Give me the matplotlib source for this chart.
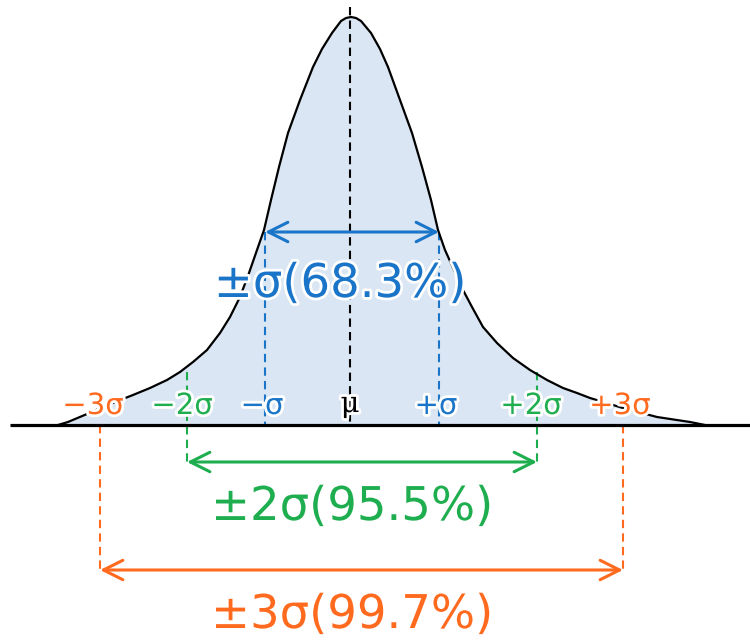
import matplotlib.pyplot as plt
import matplotlib.patheffects as pe
from matplotlib.patches import FancyArrowPatch

# curve (pixel coords, y grows downward)
curve_x = [58, 68, 87, 110, 133, 150, 167, 180, 193, 207, 220, 230, 240, 249, 257,
           264, 271, 279, 288, 300, 313, 322, 332, 341, 346, 351, 356, 361, 371,
           380, 388, 400, 412, 422, 431, 438, 445, 454, 463, 472, 483, 497, 513,
           530, 547, 563, 577, 590, 623, 657, 690, 705]
curve_y = [425, 422, 414, 404, 395, 388, 380, 372, 362, 350, 333, 317, 297, 273, 250,
           230, 200, 167, 133, 100, 67, 49, 33, 21, 18, 17, 18, 21, 33,
           49, 67, 100, 133, 167, 200, 230, 250, 270, 290, 307, 327, 343, 358,
           370, 380, 388, 393, 398, 408, 417, 422, 425]

baseline_y = 425
mu_x = 350
sigma_x = [265, 439]
sigma2_x = [187, 537]
sigma3_x = [100, 623]

tick_labels = ['\u22123\u03c3', '\u22122\u03c3', '\u2212\u03c3', '+\u03c3', '+2\u03c3', '+3\u03c3']
tick_label_x = [93, 182, 262, 436, 531, 620]
range_labels = ['\u00b1\u03c3(68.3%)', '\u00b12\u03c3(95.5%)', '\u00b13\u03c3(99.7%)']

blue = '#1a75c9'
green = '#1fae4f'
orange = '#ff6a1f'
fill_c = '#dae6f3'

fig = plt.figure(figsize=(7.5, 6.4), dpi=100)
ax = fig.add_axes([0, 0, 1, 1])
ax.set_xlim(0, 750)
ax.set_ylim(640, 0)
ax.axis('off')

halo = [pe.withStroke(linewidth=4, foreground='white')]
dash = (0, (4, 2.5))

# area under curve
ax.fill_between(curve_x, curve_y, baseline_y, color=fill_c, lw=0, zorder=1)

# dashed guides
ax.plot([mu_x, mu_x], [7, baseline_y], color='black', lw=1.5, ls=dash, zorder=2)
for x in sigma_x:
    ax.plot([x, x], [232, baseline_y], color=blue, lw=1.5, ls=dash, zorder=2)
for x in sigma2_x:
    ax.plot([x, x], [372, 462], color=green, lw=1.5, ls=dash, zorder=2)
for x in sigma3_x:
    ax.plot([x, x], [baseline_y, 570], color=orange, lw=1.5, ls=dash, zorder=2)

ax.plot(curve_x, curve_y, color='black', lw=1.6, zorder=3, solid_joinstyle='round')
ax.plot([10, 750], [baseline_y, baseline_y], color='black', lw=2.3, zorder=3,
        solid_capstyle='butt')

# range arrows
for xs, y, c in [(sigma_x, 232, blue), (sigma2_x, 462, green), (sigma3_x, 570, orange)]:
    arr = FancyArrowPatch((xs[0], y), (xs[1], y),
                          arrowstyle='<->,head_length=0.7,head_width=0.35',
                          mutation_scale=20, color=c, lw=2.2,
                          shrinkA=0, shrinkB=0, zorder=4)
    ax.add_patch(arr)

# tick labels along the baseline
tick_colors = [orange, green, blue, blue, green, orange]
for lab, x, c in zip(tick_labels, tick_label_x, tick_colors):
    ax.text(x, 414, lab, color=c, fontsize=21, ha='center',
            va='baseline', path_effects=halo, zorder=5)
ax.text(mu_x, 412, '\u03bc', color='black', fontsize=21, ha='center',
        va='baseline', family=['DejaVu Serif'], path_effects=halo, zorder=5)

# range labels
for lab, x, y, c in zip(range_labels, [340, 352, 352], [297, 520, 628],
                        [blue, green, orange]):
    ax.text(x, y, lab, color=c, fontsize=33.5, ha='center',
            va='baseline', path_effects=halo, zorder=5)

fig.savefig('out.png', dpi=100)
